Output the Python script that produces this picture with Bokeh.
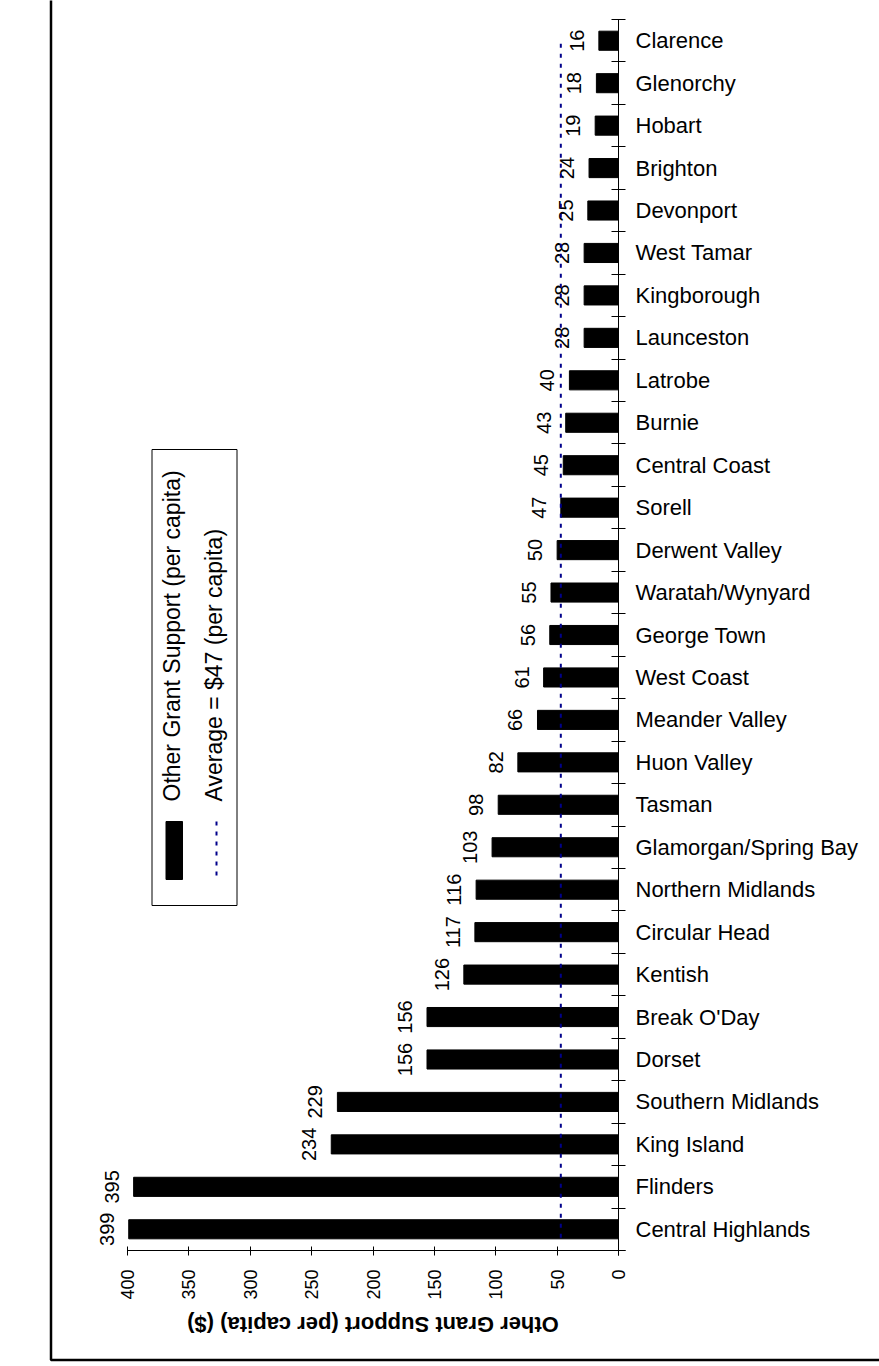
from math import pi

from bokeh.core.properties import value
from bokeh.embed import file_html
from bokeh.models import ColumnDataSource, FixedTicker, Range1d
from bokeh.plotting import figure
from bokeh.resources import INLINE
from bokeh.transform import dodge

# Councils listed from the top of the chart to the bottom
councils = [
    "Clarence", "Glenorchy", "Hobart", "Brighton", "Devonport", "West Tamar",
    "Kingborough", "Launceston", "Latrobe", "Burnie", "Central Coast", "Sorell",
    "Derwent Valley", "Waratah/Wynyard", "George Town", "West Coast",
    "Meander Valley", "Huon Valley", "Tasman", "Glamorgan/Spring Bay",
    "Northern Midlands", "Circular Head", "Kentish", "Break O'Day", "Dorset",
    "Southern Midlands", "King Island", "Flinders", "Central Highlands",
]
# Other grant support, dollars per capita
support = [
    16, 18, 19, 24, 25, 28, 28, 28, 40, 43, 45, 47, 50, 55, 56, 61, 66, 82, 98,
    103, 116, 117, 126, 156, 156, 229, 234, 395, 399,
]
average = 47
value_ticks = [0, 50, 100, 150, 200, 250, 300, 350, 400]

FONT = "Liberation Sans"
W, H = 879, 1366
AVG_DASH = "4 6"

# page geometry: where value 0 sits, pixels per dollar, bottom of the bars
# area and the height of one row
ZERO_PX, UNIT_PX = 618.0, 1.2275
BASE_PX, ROW_PX = 1250.0, 42.448
# rotated text sits this many pixels right of its anchor
ROT_SHIFT = 9


def xv(px):
    return (ZERO_PX - px) / UNIT_PX


def yv(py):
    return 0.5 + (BASE_PX - py) / ROW_PX


n = len(councils)
positions = list(range(n, 0, -1))

source = ColumnDataSource(dict(
    council=councils,
    support=support,
    pos=positions,
    label=[str(v) for v in support],
))

p = figure(
    width=W, height=H,
    output_backend="svg", toolbar_location=None,
    x_range=Range1d(xv(0), xv(W)), y_range=Range1d(yv(H), yv(0)),
    y_axis_location="right",
    min_border_left=0, min_border_right=0,
    min_border_top=0, min_border_bottom=0,
)
p.outline_line_color = None
p.grid.visible = False
p.background_fill_color = "white"
p.border_fill_color = "white"

# bars
p.hbar(y="pos", left=0, right="support", height=0.45,
       fill_color="black", line_color="black", source=source)

# value labels beside each bar, reading upwards, 13px clear of the bar end
p.text(x=dodge("support", (13 + ROT_SHIFT) / UNIT_PX), y="pos", text="label",
       source=source, angle=pi / 2, text_align="center",
       text_baseline="alphabetic",
       text_font=value(FONT), text_font_size="20px", text_color="black")

# average line
p.line(x=[average, average], y=[positions[-1] - 0.2, positions[0] + 0.05],
       line_color="#00008B", line_width=2, line_dash=AVG_DASH)

# value axis along the bottom of the bars
xa = p.xaxis[0]
xa.fixed_location = 0.5
xa.ticker = FixedTicker(ticks=value_ticks)
xa.bounds = (xv(625), 400)
xa.major_label_orientation = pi / 2
xa.major_label_text_font = FONT
xa.major_label_text_font_size = "18px"
xa.major_label_text_color = "black"
xa.major_tick_in = 4
xa.major_tick_out = 5
xa.minor_tick_line_color = None
xa.major_label_standoff = 14
xa.axis_line_color = "black"
xa.major_tick_line_color = "black"

# category axis at zero: names at bar centres, ticks between bars
ya = p.yaxis[0]
ya.fixed_location = 0
ya.bounds = (yv(1255), n + 0.5)
ya.ticker = FixedTicker(ticks=positions,
                        minor_ticks=[k + 0.5 for k in range(0, n + 1)])
ya.major_label_overrides = {pos: name for pos, name in zip(positions, councils)}
ya.major_tick_in = 0
ya.major_tick_out = 0
ya.minor_tick_in = 7
ya.minor_tick_out = 7
ya.minor_tick_line_color = "black"
ya.major_label_standoff = 10
ya.major_label_text_font = FONT
ya.major_label_text_font_size = "22px"
ya.major_label_text_color = "black"
ya.axis_line_color = "black"

# axis title, upside down under the value axis
p.text(x=[200], y=[yv(1324)], text=["Other Grant Support (per capita) ($)"],
       angle=pi, text_align="center", text_baseline="middle",
       text_font=value(FONT), text_font_size="22px",
       text_font_style="bold", text_color="black")

# legend
p.quad(left=xv(151.5), right=xv(236.5), top=yv(449), bottom=yv(905),
       fill_color="white", line_color="black", line_width=1)
p.quad(left=xv(165.5), right=xv(182), top=yv(821), bottom=yv(879),
       fill_color="black", line_color="black")
p.line(x=[xv(216), xv(216)], y=[yv(821), yv(879)], line_color="#00008B",
       line_width=2, line_dash=AVG_DASH)
p.text(x=[xv(180 - ROT_SHIFT), xv(222 - ROT_SHIFT)], y=[yv(801), yv(801)],
       text=["Other Grant Support (per capita)", "Average = $47 (per capita)"],
       angle=pi / 2, text_align="left", text_baseline="alphabetic",
       text_font=value(FONT), text_font_size="23px", text_color="black")

# outer frame line on the left and bottom
p.line(x=[xv(50.5), xv(50.5), xv(W + 5)], y=[yv(-5), yv(1359.5), yv(1359.5)],
       line_color="black", line_width=2.5)

open("out.html", "w").write(file_html(p, INLINE))
